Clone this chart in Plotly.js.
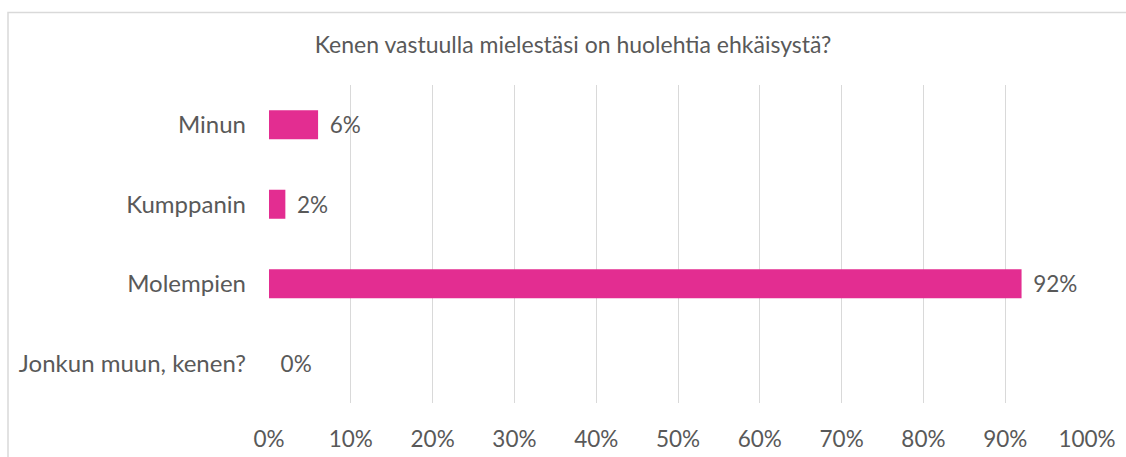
<!DOCTYPE html>
<html>
<head>
<meta charset="utf-8">
<script src="https://cdn.plot.ly/plotly-3.0.1.min.js"></script>
<style>html,body{margin:0;padding:0;background:#fff;}#chart{width:1126px;height:457px;}</style>
</head>
<body>
<div id="chart"></div>
<script>
const categories = ["Minun", "Kumppanin", "Molempien", "Jonkun muun, kenen?"];
const values = [6, 2, 92, 0];
const xTickValues = [0, 10, 20, 30, 40, 50, 60, 70, 80, 90, 100];
const titleText = "Kenen vastuulla mielestäsi on huolehtia ehkäisystä?";

const FONT = "Lato, 'Open Sans', sans-serif";
const GRAY = "#595959";

const trace = {
  type: "bar",
  orientation: "h",
  x: values,
  y: categories,
  marker: {color: "#E32D91"},
  width: 0.365,
  text: values.map(v => "\u00a0\u2009" + v + "%"),
  textposition: "outside",
  textfont: {family: FONT, size: 22.5, color: GRAY},
  cliponaxis: false,
  hoverinfo: "none"
};

const layout = {
  width: 1126,
  height: 457,
  margin: {l: 269, r: 39, t: 85, b: 54},
  paper_bgcolor: "#fff",
  plot_bgcolor: "#fff",
  showlegend: false,
  title: {
    text: titleText,
    font: {family: FONT, size: 23, color: GRAY},
    x: 573 / 1126, xref: "container", xanchor: "center",
    y: 1 - 45 / 457, yref: "container", yanchor: "middle"
  },
  xaxis: {
    range: [0, 100],
    tickvals: xTickValues,
    ticktext: xTickValues.map(v => v + "%"),
    showgrid: true,
    gridcolor: "#D9D9D9",
    gridwidth: 1,
    zeroline: false,
    showline: false,
    ticks: "",
    ticklabelstandoff: 20,
    tickfont: {family: FONT, size: 22.5, color: GRAY},
    fixedrange: true
  },
  yaxis: {
    type: "category",
    categoryorder: "array",
    categoryarray: categories,
    autorange: "reversed",
    showgrid: false,
    zeroline: false,
    showline: false,
    ticks: "",
    ticklabelstandoff: 22,
    tickfont: {family: FONT, size: 24, color: GRAY},
    fixedrange: true
  },
  shapes: [{
    type: "rect",
    xref: "paper", yref: "paper",
    x0: (8 - 269) / 818, x1: 1.2,
    y0: -0.4, y1: (403 - 12.5) / 318,
    line: {color: "#D9D9D9", width: 1.5},
    fillcolor: "rgba(0,0,0,0)",
    layer: "below"
  }]
};

Plotly.newPlot("chart", [trace], layout, {staticPlot: true, displayModeBar: false});
</script>
</body>
</html>
